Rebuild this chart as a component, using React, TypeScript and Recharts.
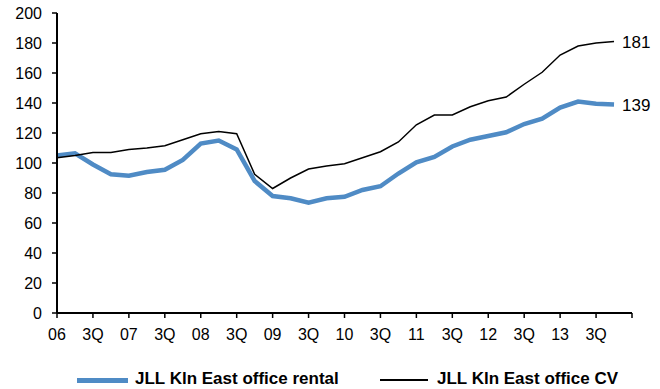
import React from 'react';
import { LineChart, Line, XAxis, YAxis, Legend } from 'recharts';

// 1Q06 .. 4Q13, plus one empty slot so the axis runs to the last tick
const quarters = [
  '1Q06', '2Q06', '3Q06', '4Q06', '1Q07', '2Q07', '3Q07', '4Q07',
  '1Q08', '2Q08', '3Q08', '4Q08', '1Q09', '2Q09', '3Q09', '4Q09',
  '1Q10', '2Q10', '3Q10', '4Q10', '1Q11', '2Q11', '3Q11', '4Q11',
  '1Q12', '2Q12', '3Q12', '4Q12', '1Q13', '2Q13', '3Q13', '4Q13',
  '1Q14',
];

const rental = [
  105, 106.5, 99, 92.5, 91.5, 94, 95.5, 102,
  113, 115, 109, 88, 78, 76.5, 73.5, 76.5,
  77.5, 82, 84.5, 93, 100.5, 104, 111, 115.5,
  118, 120.5, 126, 129.5, 137, 141, 139.5, 139,
];

const capitalValue = [
  103.5, 105, 107, 107, 109, 110, 111.5, 115.5,
  119.5, 121, 119.5, 92.5, 83, 90, 96, 98,
  99.5, 103.5, 107.5, 114, 125.5, 132, 132, 137.5,
  141.5, 144, 152.5, 160.5, 172, 178, 180, 181,
];

const yTicks = [0, 20, 40, 60, 80, 100, 120, 140, 160, 180, 200];

const seriesNames = ['JLL Kln East office rental', 'JLL Kln East office CV'];

const BLUE = '#4F8BC5';
const FONT = '"Liberation Sans", Arial, sans-serif';

const data = quarters.map((q, i) => ({
  quarter: q,
  rental: rental[i] ?? null,
  cv: capitalValue[i] ?? null,
}));

const lastIndex = rental.length - 1;

const formatQuarter = (q: string) => {
  if (q === '1Q14') return '';
  return q.startsWith('1Q') ? q.slice(2) : q.startsWith('3Q') ? '3Q' : '';
};

const EndLabel = (props: any) => {
  const { x, y, index, value } = props;
  if (index !== lastIndex) return null;
  return (
    <text x={x + 8} y={y} dy={6} fontSize={17} fontFamily={FONT} fill="#000">
      {Math.round(value)}
    </text>
  );
};

const legendText: React.CSSProperties = {
  position: 'absolute',
  top: 0,
  fontSize: 17,
  fontWeight: 'bold',
  lineHeight: '20px',
  whiteSpace: 'nowrap',
};

const LegendContent = () => (
  <div style={{ position: 'relative', width: 660, height: 20, fontFamily: FONT }}>
    <div style={{ position: 'absolute', left: 77, top: 9, width: 51, height: 4.5, background: BLUE }} />
    <div style={{ ...legendText, left: 135 }}>{seriesNames[0]}</div>
    <div style={{ position: 'absolute', left: 380, top: 10, width: 48, height: 1.5, background: '#000' }} />
    <div style={{ ...legendText, left: 437 }}>{seriesNames[1]}</div>
  </div>
);

export default function App() {
  return (
    <div style={{ position: 'absolute', left: 0, top: 0, width: 660, height: 389, background: '#fff' }}>
      <LineChart width={660} height={389} data={data} margin={{ top: 13, right: 28, bottom: 0, left: 0 }}>
        <XAxis
          dataKey="quarter"
          interval={1}
          tickFormatter={formatQuarter}
          tickSize={5}
          tickMargin={11}
          height={56}
          stroke="#000"
          strokeWidth={2}
          tick={{ fill: '#000', fontSize: 16, fontFamily: FONT }}
          tickLine={{ stroke: '#000', strokeWidth: 1.5 }}
        />
        <YAxis
          domain={[0, 200]}
          ticks={yTicks}
          width={57}
          tickSize={5}
          tickMargin={10}
          stroke="#000"
          strokeWidth={2}
          tick={{ fill: '#000', fontSize: 16, fontFamily: FONT }}
          tickLine={{ stroke: '#000', strokeWidth: 1.5 }}
        />
        <Legend
          verticalAlign="bottom"
          content={<LegendContent />}
          wrapperStyle={{ left: 0, bottom: 0, width: 660, height: 20 }}
        />
        <Line
          dataKey="rental"
          name={seriesNames[0]}
          stroke={BLUE}
          strokeWidth={4.5}
          dot={false}
          isAnimationActive={false}
          label={<EndLabel />}
        />
        <Line
          dataKey="cv"
          name={seriesNames[1]}
          stroke="#000"
          strokeWidth={1.5}
          dot={false}
          isAnimationActive={false}
          label={<EndLabel />}
        />
      </LineChart>
    </div>
  );
}
